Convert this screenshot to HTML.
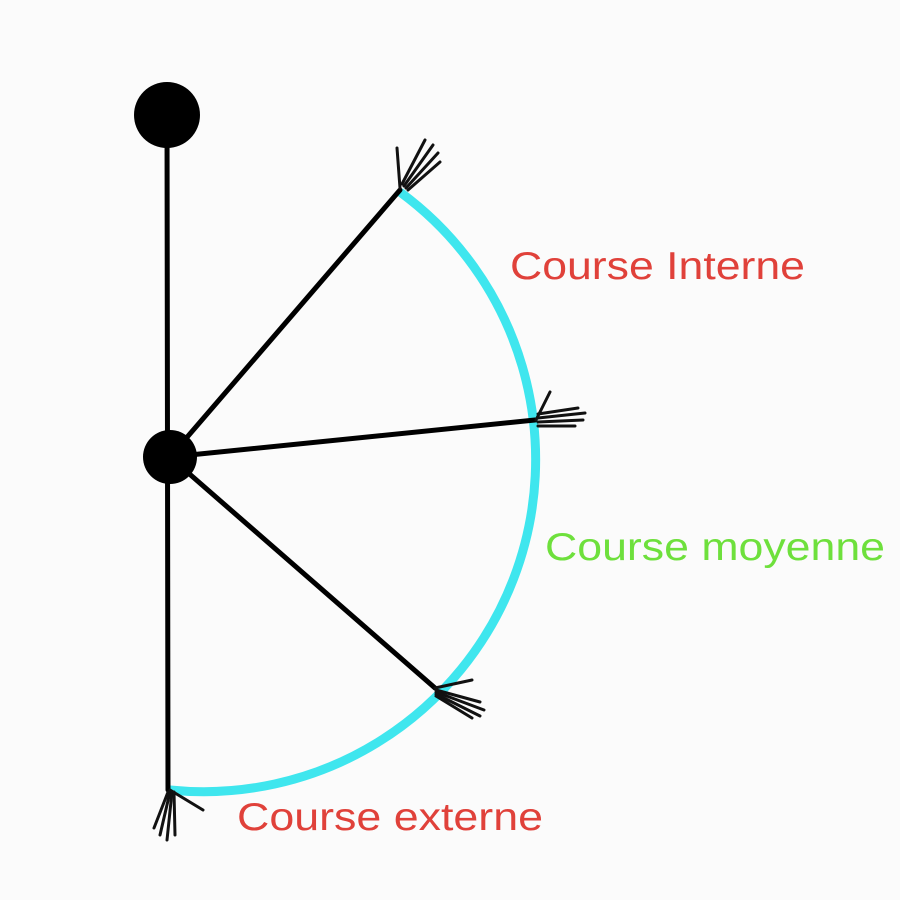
<!DOCTYPE html>
<html><head><style>body{margin:0;background:#fbfbfb}svg{display:block}</style></head><body>
<svg width="900" height="900" viewBox="0 0 900 900">
<rect width="900" height="900" fill="#fbfbfb"/>
<path d="M400,192 A332,332 0 0 1 170,790" fill="none" stroke="#3fe6ee" stroke-width="9"/>
<g stroke="#000" stroke-width="5" stroke-linecap="round" fill="none">
<line x1="167" y1="115" x2="168" y2="790"/>
<line x1="170" y1="457" x2="400" y2="190"/>
<line x1="170" y1="457" x2="535" y2="420"/>
<line x1="170" y1="457" x2="435" y2="688"/>
</g>
<g stroke="#111" stroke-width="3" stroke-linecap="round" fill="none">
<line x1="400" y1="188" x2="397" y2="148"/>
<line x1="402" y1="184" x2="425" y2="140"/>
<line x1="404" y1="186" x2="433" y2="145"/>
<line x1="406" y1="188" x2="438" y2="153"/>
<line x1="408" y1="190" x2="440" y2="162"/>
<line x1="536" y1="420" x2="550" y2="392"/>
<line x1="538" y1="414" x2="578" y2="408"/>
<line x1="538" y1="418" x2="585" y2="413"/>
<line x1="538" y1="422" x2="583" y2="420"/>
<line x1="538" y1="426" x2="575" y2="426"/>
<line x1="435" y1="688" x2="472" y2="680"/>
<line x1="436" y1="690" x2="480" y2="702"/>
<line x1="436" y1="692" x2="484" y2="710"/>
<line x1="436" y1="694" x2="480" y2="716"/>
<line x1="436" y1="696" x2="472" y2="718"/>
<line x1="170" y1="790" x2="203" y2="810"/>
<line x1="168" y1="792" x2="154" y2="828"/>
<line x1="170" y1="792" x2="160" y2="835"/>
<line x1="172" y1="792" x2="167" y2="840"/>
<line x1="174" y1="792" x2="175" y2="835"/>
</g>
<circle cx="167" cy="115" r="33" fill="#000"/>
<circle cx="170" cy="457" r="27" fill="#000"/>
<g font-family="Liberation Sans, sans-serif" font-size="39">
<text x="510" y="279" fill="#e0413a" textLength="295" lengthAdjust="spacingAndGlyphs">Course Interne</text>
<text x="545" y="560" fill="#6ee03c" textLength="340" lengthAdjust="spacingAndGlyphs">Course moyenne</text>
<text x="237" y="830" fill="#e0413a" textLength="306" lengthAdjust="spacingAndGlyphs">Course externe</text>
</g>
</svg>
</body></html>
